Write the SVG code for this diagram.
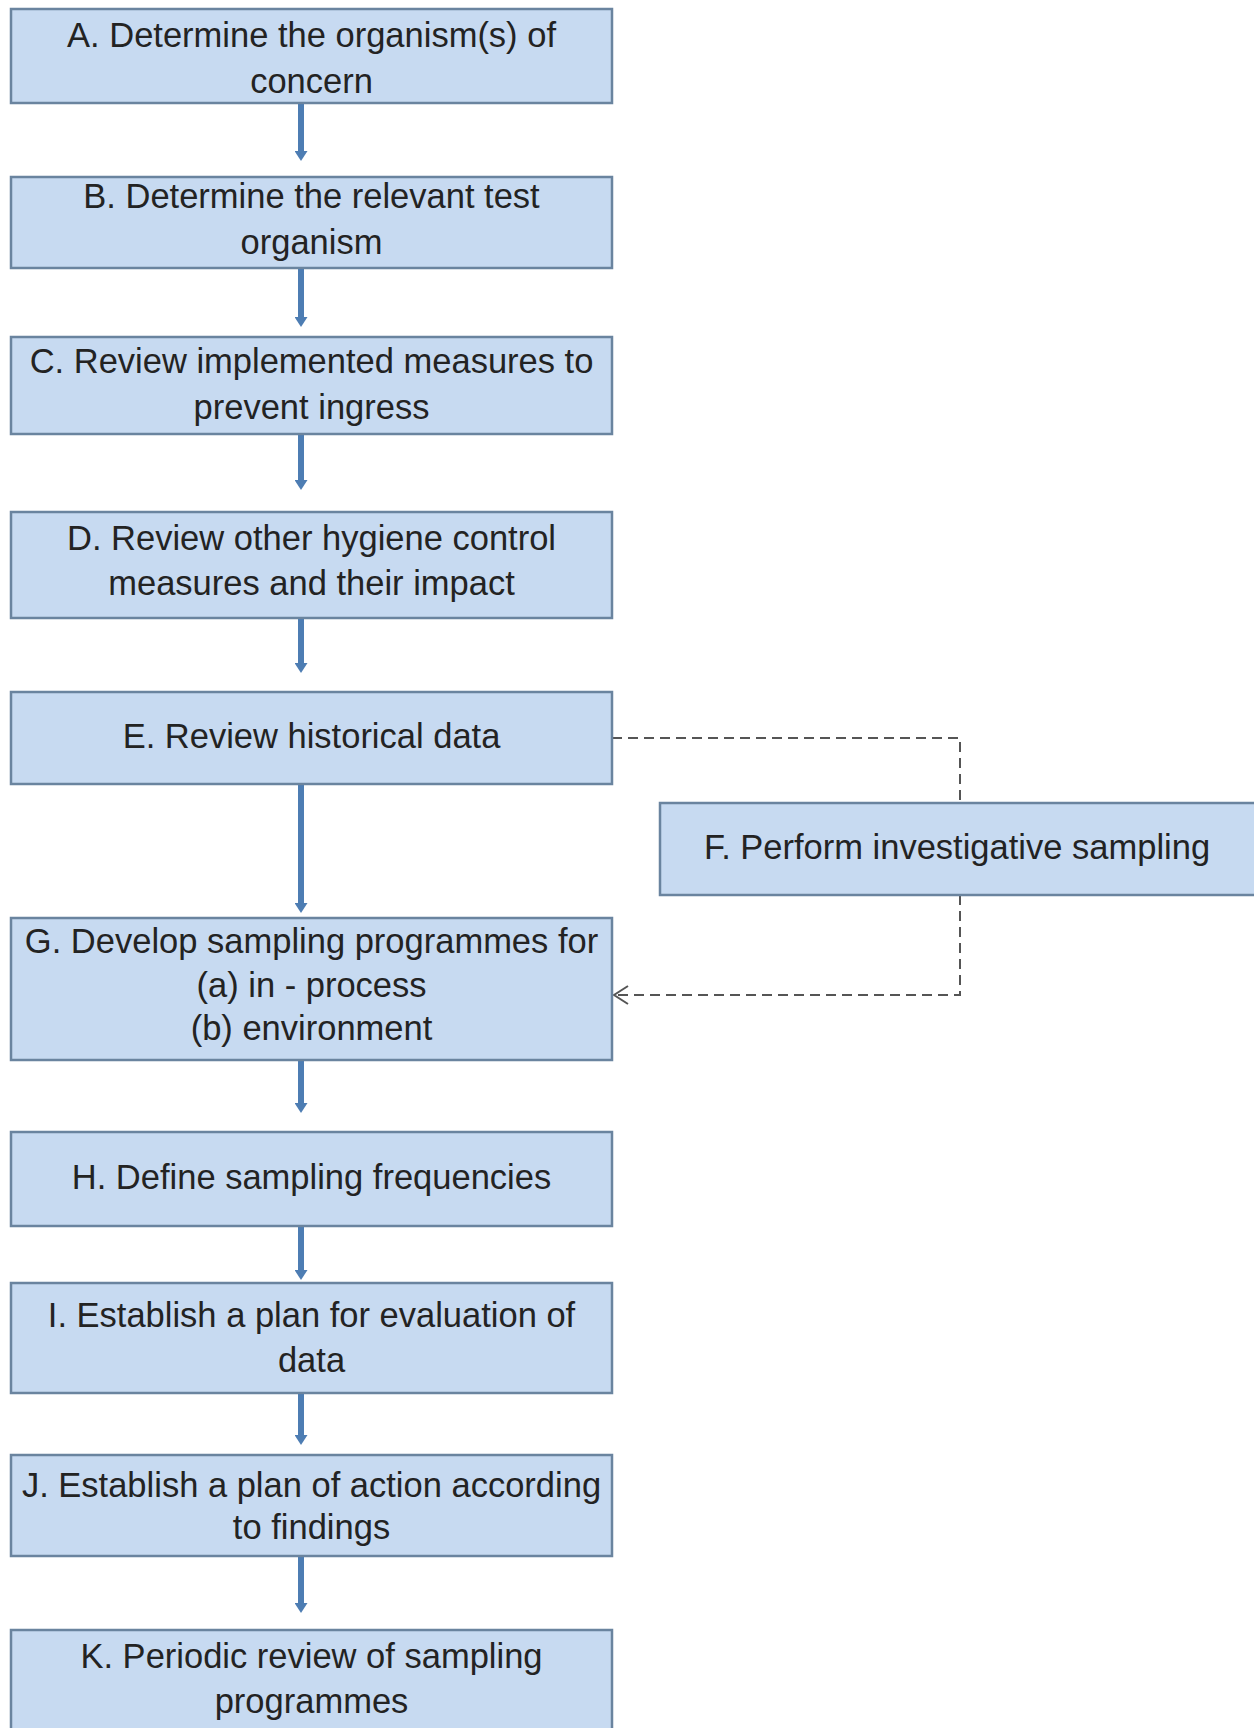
<svg xmlns="http://www.w3.org/2000/svg" width="1254" height="1728" viewBox="0 0 1254 1728">
<style>
.box{fill:#c7daf1;stroke:#6a849f;stroke-width:2.5}
.t{font-family:"Liberation Sans",Arial,sans-serif;font-size:34.5px;fill:#232323;text-anchor:middle}
.flow{stroke:#4d7db3;stroke-width:6;fill:none;marker-end:url(#ah)}
.dash{stroke:#555;stroke-width:2;fill:none;stroke-dasharray:10 6}
</style>
<defs>
<marker id="ah" viewBox="0 0 10 10" refX="0" refY="5" markerWidth="10" markerHeight="13" markerUnits="userSpaceOnUse" orient="auto" preserveAspectRatio="none">
<path d="M0,0 L10,5 L0,10 z" fill="#4d7db3"/>
</marker>
<marker id="oh" viewBox="0 0 16 20" refX="15" refY="10" markerWidth="16" markerHeight="20" markerUnits="userSpaceOnUse" orient="auto">
<path d="M1,1 L15,10 L1,19" fill="none" stroke="#555" stroke-width="2" stroke-dasharray="none"/>
</marker>
</defs>
<rect width="1254" height="1728" fill="#fff"/>
<g id="connectors">
<path class="flow" d="M301,103 V151"/>
<path class="flow" d="M301,268 V317"/>
<path class="flow" d="M301,434 V480"/>
<path class="flow" d="M301,618 V663"/>
<path class="flow" d="M301,784 V903"/>
<path class="flow" d="M301,1060 V1103"/>
<path class="flow" d="M301,1226 V1270"/>
<path class="flow" d="M301,1393 V1435"/>
<path class="flow" d="M301,1556 V1603"/>
<path class="dash" d="M612,738 H960 V803"/>
<path class="dash" d="M960,895 V995 H614" marker-end="url(#oh)"/>
</g>
<g id="nodeA"><rect class="box" x="11" y="9" width="601" height="94"/>
<text class="t" x="311.5" y="47">A. Determine the organism(s) of</text><text class="t" x="311.5" y="93">concern</text></g>
<g id="nodeB"><rect class="box" x="11" y="177" width="601" height="91"/>
<text class="t" x="311.5" y="208">B. Determine the relevant test</text><text class="t" x="311.5" y="254">organism</text></g>
<g id="nodeC"><rect class="box" x="11" y="337" width="601" height="97"/>
<text class="t" x="311.5" y="373">C. Review implemented measures to</text><text class="t" x="311.5" y="419">prevent ingress</text></g>
<g id="nodeD"><rect class="box" x="11" y="512" width="601" height="106"/>
<text class="t" x="311.5" y="550">D. Review other hygiene control</text><text class="t" x="311.5" y="595">measures and their impact</text></g>
<g id="nodeE"><rect class="box" x="11" y="692" width="601" height="92"/>
<text class="t" x="311.5" y="748">E. Review historical data</text></g>
<g id="nodeF"><rect class="box" x="660" y="803" width="610" height="92"/>
<text class="t" x="957" y="859">F. Perform investigative sampling</text></g>
<g id="nodeG"><rect class="box" x="11" y="918" width="601" height="142"/>
<text class="t" x="311.5" y="953">G. Develop sampling programmes for</text><text class="t" x="311.5" y="997">(a) in - process</text><text class="t" x="311.5" y="1040">(b) environment</text></g>
<g id="nodeH"><rect class="box" x="11" y="1132" width="601" height="94"/>
<text class="t" x="311.5" y="1189">H. Define sampling frequencies</text></g>
<g id="nodeI"><rect class="box" x="11" y="1283" width="601" height="110"/>
<text class="t" x="311.5" y="1327">I. Establish a plan for evaluation of</text><text class="t" x="311.5" y="1372">data</text></g>
<g id="nodeJ"><rect class="box" x="11" y="1455" width="601" height="101"/>
<text class="t" x="311.5" y="1497">J. Establish a plan of action according</text><text class="t" x="311.5" y="1539">to findings</text></g>
<g id="nodeK"><rect class="box" x="11" y="1630" width="601" height="110"/>
<text class="t" x="311.5" y="1668">K. Periodic review of sampling</text><text class="t" x="311.5" y="1713">programmes</text></g>
</svg>
